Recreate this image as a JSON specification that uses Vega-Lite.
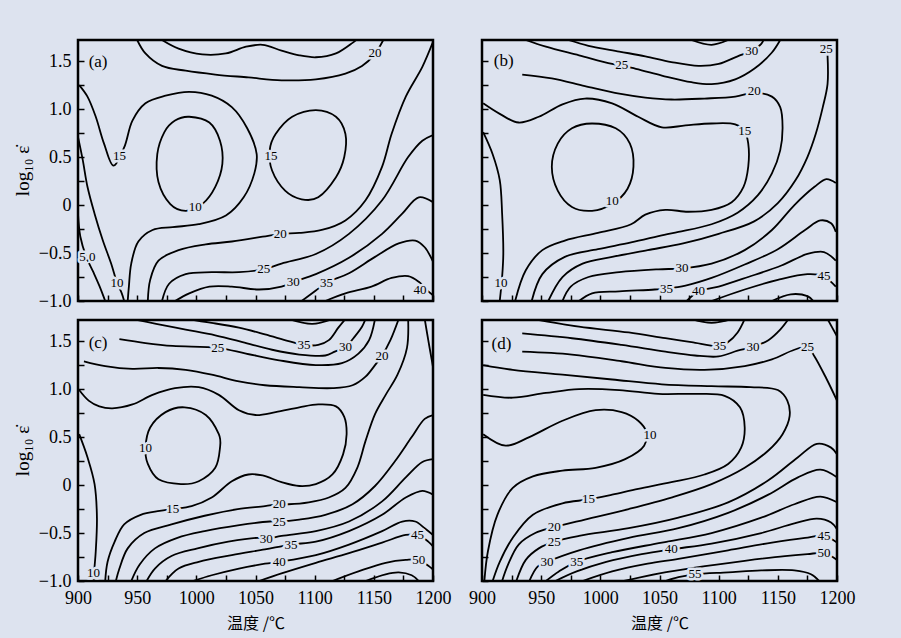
{
  "$schema": "https://vega.github.io/schema/vega-lite/v6.json",
  "background": "#dde3ef",
  "padding": {"left": 12, "top": 38, "right": 50, "bottom": 10},
  "config": {
    "view": {"stroke": "black", "strokeWidth": 2.5},
    "font": "Liberation Serif"
  },
  "datasets": {
    "ln": [
      {"p":"a","k":1,"t":950,"l":1.72},{"p":"a","k":1,"t":957,"l":1.58},{"p":"a","k":1,"t":971,"l":1.45},{"p":"a","k":1,"t":991,"l":1.40},{"p":"a","k":1,"t":1016,"l":1.36},{"p":"a","k":1,"t":1044,"l":1.33},{"p":"a","k":1,"t":1072,"l":1.30},{"p":"a","k":1,"t":1101,"l":1.31},{"p":"a","k":1,"t":1126,"l":1.37},{"p":"a","k":1,"t":1140,"l":1.45},{"p":"a","k":1,"t":1150,"l":1.56},{"p":"a","k":1,"t":1158,"l":1.72},
      {"p":"a","k":2,"t":971,"l":1.72},{"p":"a","k":2,"t":985,"l":1.63},{"p":"a","k":2,"t":1005,"l":1.57},{"p":"a","k":2,"t":1025,"l":1.58},{"p":"a","k":2,"t":1042,"l":1.65},{"p":"a","k":2,"t":1056,"l":1.67},{"p":"a","k":2,"t":1072,"l":1.61},{"p":"a","k":2,"t":1087,"l":1.56},{"p":"a","k":2,"t":1101,"l":1.54},{"p":"a","k":2,"t":1118,"l":1.58},{"p":"a","k":2,"t":1132,"l":1.69},{"p":"a","k":2,"t":1135,"l":1.72},
      {"p":"a","k":3,"t":901,"l":1.25},{"p":"a","k":3,"t":908,"l":1.13},{"p":"a","k":3,"t":915,"l":0.92},{"p":"a","k":3,"t":922,"l":0.64},{"p":"a","k":3,"t":930,"l":0.41},{"p":"a","k":3,"t":939,"l":0.60},{"p":"a","k":3,"t":946,"l":0.88},{"p":"a","k":3,"t":957,"l":1.06},{"p":"a","k":3,"t":974,"l":1.14},{"p":"a","k":3,"t":994,"l":1.18},{"p":"a","k":3,"t":1013,"l":1.14},{"p":"a","k":3,"t":1030,"l":1.02},{"p":"a","k":3,"t":1043,"l":0.80},{"p":"a","k":3,"t":1051,"l":0.53},{"p":"a","k":3,"t":1049,"l":0.33},{"p":"a","k":3,"t":1040,"l":0.08},{"p":"a","k":3,"t":1025,"l":-0.11},{"p":"a","k":3,"t":1002,"l":-0.20},{"p":"a","k":3,"t":980,"l":-0.23},{"p":"a","k":3,"t":963,"l":-0.26},{"p":"a","k":3,"t":951,"l":-0.38},{"p":"a","k":3,"t":945,"l":-0.61},{"p":"a","k":3,"t":943,"l":-0.85},{"p":"a","k":3,"t":942,"l":-1.0},
      {"p":"a","k":4,"t":900,"l":0.71},{"p":"a","k":4,"t":904,"l":0.47},{"p":"a","k":4,"t":908,"l":0.19},{"p":"a","k":4,"t":914,"l":-0.09},{"p":"a","k":4,"t":921,"l":-0.37},{"p":"a","k":4,"t":928,"l":-0.61},{"p":"a","k":4,"t":933,"l":-0.81},{"p":"a","k":4,"t":937,"l":-0.92},{"p":"a","k":4,"t":939,"l":-1.0},
      {"p":"a","k":5,"t":900,"l":-0.09},{"p":"a","k":5,"t":902,"l":-0.33},{"p":"a","k":5,"t":907,"l":-0.54},{"p":"a","k":5,"t":913,"l":-0.70},{"p":"a","k":5,"t":918,"l":-0.84},{"p":"a","k":5,"t":923,"l":-1.0},
      {"p":"a","k":6,"t":959,"l":-1.0},{"p":"a","k":6,"t":961,"l":-0.78},{"p":"a","k":6,"t":968,"l":-0.58},{"p":"a","k":6,"t":985,"l":-0.47},{"p":"a","k":6,"t":1008,"l":-0.41},{"p":"a","k":6,"t":1030,"l":-0.38},{"p":"a","k":6,"t":1056,"l":-0.33},{"p":"a","k":6,"t":1071,"l":-0.30},{"p":"a","k":6,"t":1087,"l":-0.29},{"p":"a","k":6,"t":1106,"l":-0.26},{"p":"a","k":6,"t":1126,"l":-0.16},{"p":"a","k":6,"t":1143,"l":0.05},{"p":"a","k":6,"t":1157,"l":0.40},{"p":"a","k":6,"t":1165,"l":0.74},{"p":"a","k":6,"t":1177,"l":1.13},{"p":"a","k":6,"t":1191,"l":1.44},{"p":"a","k":6,"t":1200,"l":1.70},
      {"p":"a","k":7,"t":971,"l":-1.0},{"p":"a","k":7,"t":977,"l":-0.82},{"p":"a","k":7,"t":991,"l":-0.72},{"p":"a","k":7,"t":1013,"l":-0.70},{"p":"a","k":7,"t":1036,"l":-0.70},{"p":"a","k":7,"t":1057,"l":-0.67},{"p":"a","k":7,"t":1072,"l":-0.61},{"p":"a","k":7,"t":1101,"l":-0.51},{"p":"a","k":7,"t":1129,"l":-0.30},{"p":"a","k":7,"t":1157,"l":0.05},{"p":"a","k":7,"t":1179,"l":0.50},{"p":"a","k":7,"t":1191,"l":0.67},{"p":"a","k":7,"t":1200,"l":0.73},
      {"p":"a","k":8,"t":982,"l":-1.0},{"p":"a","k":8,"t":994,"l":-0.92},{"p":"a","k":8,"t":1011,"l":-0.85},{"p":"a","k":8,"t":1030,"l":-0.85},{"p":"a","k":8,"t":1053,"l":-0.88},{"p":"a","k":8,"t":1072,"l":-0.85},{"p":"a","k":8,"t":1082,"l":-0.80},{"p":"a","k":8,"t":1101,"l":-0.72},{"p":"a","k":8,"t":1129,"l":-0.55},{"p":"a","k":8,"t":1157,"l":-0.30},{"p":"a","k":8,"t":1174,"l":-0.09},{"p":"a","k":8,"t":1188,"l":0.08},{"p":"a","k":8,"t":1200,"l":0.03},
      {"p":"a","k":9,"t":1089,"l":-1.0},{"p":"a","k":9,"t":1101,"l":-0.89},{"p":"a","k":9,"t":1110,"l":-0.81},{"p":"a","k":9,"t":1129,"l":-0.71},{"p":"a","k":9,"t":1151,"l":-0.54},{"p":"a","k":9,"t":1171,"l":-0.40},{"p":"a","k":9,"t":1185,"l":-0.37},{"p":"a","k":9,"t":1193,"l":-0.44},{"p":"a","k":9,"t":1200,"l":-0.59},
      {"p":"a","k":10,"t":1109,"l":-1.0},{"p":"a","k":10,"t":1126,"l":-0.92},{"p":"a","k":10,"t":1148,"l":-0.85},{"p":"a","k":10,"t":1165,"l":-0.76},{"p":"a","k":10,"t":1179,"l":-0.74},{"p":"a","k":10,"t":1188,"l":-0.80},{"p":"a","k":10,"t":1196,"l":-0.90},{"p":"a","k":10,"t":1200,"l":-0.94},

      {"p":"b","k":1,"t":1077,"l":1.72},{"p":"b","k":1,"t":1094,"l":1.67},{"p":"b","k":1,"t":1108,"l":1.72},
      {"p":"b","k":2,"t":973,"l":1.72},{"p":"b","k":2,"t":990,"l":1.66},{"p":"b","k":2,"t":1016,"l":1.60},{"p":"b","k":2,"t":1038,"l":1.55},{"p":"b","k":2,"t":1060,"l":1.49},{"p":"b","k":2,"t":1083,"l":1.45},{"p":"b","k":2,"t":1100,"l":1.47},{"p":"b","k":2,"t":1116,"l":1.55},{"p":"b","k":2,"t":1128,"l":1.61},{"p":"b","k":2,"t":1136,"l":1.68},{"p":"b","k":2,"t":1138,"l":1.72},
      {"p":"b","k":3,"t":937,"l":1.72},{"p":"b","k":3,"t":954,"l":1.65},{"p":"b","k":3,"t":982,"l":1.56},{"p":"b","k":3,"t":1010,"l":1.47},{"p":"b","k":3,"t":1030,"l":1.42},{"p":"b","k":3,"t":1052,"l":1.35},{"p":"b","k":3,"t":1077,"l":1.28},{"p":"b","k":3,"t":1094,"l":1.26},{"p":"b","k":3,"t":1114,"l":1.31},{"p":"b","k":3,"t":1130,"l":1.42},{"p":"b","k":3,"t":1145,"l":1.59},{"p":"b","k":3,"t":1152,"l":1.72},
      {"p":"b","k":4,"t":934,"l":1.36},{"p":"b","k":4,"t":959,"l":1.32},{"p":"b","k":4,"t":987,"l":1.24},{"p":"b","k":4,"t":1016,"l":1.16},{"p":"b","k":4,"t":1038,"l":1.12},{"p":"b","k":4,"t":1060,"l":1.10},{"p":"b","k":4,"t":1088,"l":1.11},{"p":"b","k":4,"t":1114,"l":1.13},{"p":"b","k":4,"t":1130,"l":1.17},{"p":"b","k":4,"t":1145,"l":1.13},{"p":"b","k":4,"t":1152,"l":1.02},{"p":"b","k":4,"t":1154,"l":0.81},{"p":"b","k":4,"t":1152,"l":0.57},{"p":"b","k":4,"t":1145,"l":0.33},{"p":"b","k":4,"t":1133,"l":0.10},{"p":"b","k":4,"t":1116,"l":-0.08},{"p":"b","k":4,"t":1094,"l":-0.20},{"p":"b","k":4,"t":1066,"l":-0.28},{"p":"b","k":4,"t":1054,"l":-0.31},{"p":"b","k":4,"t":1026,"l":-0.39},{"p":"b","k":4,"t":998,"l":-0.46},{"p":"b","k":4,"t":970,"l":-0.54},{"p":"b","k":4,"t":951,"l":-0.72},{"p":"b","k":4,"t":942,"l":-1.0},
      {"p":"b","k":5,"t":901,"l":1.06},{"p":"b","k":5,"t":915,"l":0.95},{"p":"b","k":5,"t":931,"l":0.86},{"p":"b","k":5,"t":948,"l":0.92},{"p":"b","k":5,"t":968,"l":1.05},{"p":"b","k":5,"t":987,"l":1.11},{"p":"b","k":5,"t":1010,"l":1.06},{"p":"b","k":5,"t":1032,"l":0.92},{"p":"b","k":5,"t":1052,"l":0.81},{"p":"b","k":5,"t":1072,"l":0.83},{"p":"b","k":5,"t":1094,"l":0.85},{"p":"b","k":5,"t":1114,"l":0.84},{"p":"b","k":5,"t":1122,"l":0.77},{"p":"b","k":5,"t":1125,"l":0.64},{"p":"b","k":5,"t":1125,"l":0.40},{"p":"b","k":5,"t":1121,"l":0.19},{"p":"b","k":5,"t":1111,"l":0.03},{"p":"b","k":5,"t":1094,"l":-0.05},{"p":"b","k":5,"t":1074,"l":-0.07},{"p":"b","k":5,"t":1055,"l":-0.05},{"p":"b","k":5,"t":1038,"l":-0.10},{"p":"b","k":5,"t":1026,"l":-0.20},{"p":"b","k":5,"t":998,"l":-0.29},{"p":"b","k":5,"t":970,"l":-0.37},{"p":"b","k":5,"t":951,"l":-0.47},{"p":"b","k":5,"t":937,"l":-0.68},{"p":"b","k":5,"t":928,"l":-1.0},
      {"p":"b","k":6,"t":901,"l":0.76},{"p":"b","k":6,"t":909,"l":0.53},{"p":"b","k":6,"t":915,"l":0.26},{"p":"b","k":6,"t":917,"l":-0.09},{"p":"b","k":6,"t":918,"l":-0.51},{"p":"b","k":6,"t":917,"l":-0.75},{"p":"b","k":6,"t":915,"l":-1.0},
      {"p":"b","k":7,"t":1192,"l":1.56},{"p":"b","k":7,"t":1192,"l":1.26},{"p":"b","k":7,"t":1188,"l":1.02},{"p":"b","k":7,"t":1182,"l":0.74},{"p":"b","k":7,"t":1175,"l":0.50},{"p":"b","k":7,"t":1165,"l":0.26},{"p":"b","k":7,"t":1150,"l":0.02},{"p":"b","k":7,"t":1130,"l":-0.17},{"p":"b","k":7,"t":1100,"l":-0.30},{"p":"b","k":7,"t":1070,"l":-0.40},{"p":"b","k":7,"t":1040,"l":-0.47},{"p":"b","k":7,"t":1010,"l":-0.54},{"p":"b","k":7,"t":985,"l":-0.61},{"p":"b","k":7,"t":968,"l":-0.75},{"p":"b","k":7,"t":956,"l":-1.0},
      {"p":"b","k":8,"t":968,"l":-1.0},{"p":"b","k":8,"t":975,"l":-0.85},{"p":"b","k":8,"t":990,"l":-0.75},{"p":"b","k":8,"t":1016,"l":-0.70},{"p":"b","k":8,"t":1049,"l":-0.67},{"p":"b","k":8,"t":1069,"l":-0.66},{"p":"b","k":8,"t":1094,"l":-0.61},{"p":"b","k":8,"t":1122,"l":-0.47},{"p":"b","k":8,"t":1145,"l":-0.26},{"p":"b","k":8,"t":1164,"l":0.00},{"p":"b","k":8,"t":1181,"l":0.19},{"p":"b","k":8,"t":1191,"l":0.27},{"p":"b","k":8,"t":1199,"l":0.23},
      {"p":"b","k":9,"t":982,"l":-1.0},{"p":"b","k":9,"t":993,"l":-0.92},{"p":"b","k":9,"t":1016,"l":-0.90},{"p":"b","k":9,"t":1046,"l":-0.88},{"p":"b","k":9,"t":1056,"l":-0.87},{"p":"b","k":9,"t":1072,"l":-0.84},{"p":"b","k":9,"t":1094,"l":-0.76},{"p":"b","k":9,"t":1122,"l":-0.62},{"p":"b","k":9,"t":1150,"l":-0.46},{"p":"b","k":9,"t":1173,"l":-0.26},{"p":"b","k":9,"t":1186,"l":-0.16},{"p":"b","k":9,"t":1195,"l":-0.19},{"p":"b","k":9,"t":1199,"l":-0.28},
      {"p":"b","k":10,"t":1073,"l":-1.0},{"p":"b","k":10,"t":1083,"l":-0.90},{"p":"b","k":10,"t":1100,"l":-0.85},{"p":"b","k":10,"t":1125,"l":-0.75},{"p":"b","k":10,"t":1153,"l":-0.63},{"p":"b","k":10,"t":1175,"l":-0.51},{"p":"b","k":10,"t":1189,"l":-0.49},{"p":"b","k":10,"t":1199,"l":-0.58},
      {"p":"b","k":11,"t":1094,"l":-1.0},{"p":"b","k":11,"t":1122,"l":-0.88},{"p":"b","k":11,"t":1150,"l":-0.78},{"p":"b","k":11,"t":1175,"l":-0.72},{"p":"b","k":11,"t":1189,"l":-0.74},{"p":"b","k":11,"t":1195,"l":-0.80},{"p":"b","k":11,"t":1199,"l":-0.85},
      {"p":"b","k":12,"t":1145,"l":-1.0},{"p":"b","k":12,"t":1161,"l":-0.93},{"p":"b","k":12,"t":1175,"l":-0.95},{"p":"b","k":12,"t":1180,"l":-1.0},

      {"p":"c","k":1,"t":901,"l":0.99},{"p":"c","k":1,"t":909,"l":0.88},{"p":"c","k":1,"t":918,"l":0.82},{"p":"c","k":1,"t":929,"l":0.80},{"p":"c","k":1,"t":946,"l":0.84},{"p":"c","k":1,"t":963,"l":0.94},{"p":"c","k":1,"t":982,"l":1.01},{"p":"c","k":1,"t":1002,"l":1.02},{"p":"c","k":1,"t":1019,"l":0.94},{"p":"c","k":1,"t":1036,"l":0.78},{"p":"c","k":1,"t":1050,"l":0.73},{"p":"c","k":1,"t":1067,"l":0.76},{"p":"c","k":1,"t":1087,"l":0.81},{"p":"c","k":1,"t":1103,"l":0.84},{"p":"c","k":1,"t":1118,"l":0.82},{"p":"c","k":1,"t":1125,"l":0.71},{"p":"c","k":1,"t":1127,"l":0.53},{"p":"c","k":1,"t":1124,"l":0.32},{"p":"c","k":1,"t":1115,"l":0.11},{"p":"c","k":1,"t":1101,"l":0.01},{"p":"c","k":1,"t":1087,"l":-0.01},{"p":"c","k":1,"t":1072,"l":0.03},{"p":"c","k":1,"t":1056,"l":0.10},{"p":"c","k":1,"t":1044,"l":0.11},{"p":"c","k":1,"t":1030,"l":0.04},{"p":"c","k":1,"t":1013,"l":-0.13},{"p":"c","k":1,"t":996,"l":-0.22},{"p":"c","k":1,"t":980,"l":-0.25},{"p":"c","k":1,"t":969,"l":-0.27},{"p":"c","k":1,"t":953,"l":-0.31},{"p":"c","k":1,"t":939,"l":-0.41},{"p":"c","k":1,"t":931,"l":-0.59},{"p":"c","k":1,"t":925,"l":-0.80},{"p":"c","k":1,"t":923,"l":-1.0},
      {"p":"c","k":2,"t":901,"l":0.53},{"p":"c","k":2,"t":908,"l":0.29},{"p":"c","k":2,"t":914,"l":0.01},{"p":"c","k":2,"t":916,"l":-0.34},{"p":"c","k":2,"t":915,"l":-0.69},{"p":"c","k":2,"t":914,"l":-0.85},{"p":"c","k":2,"t":913,"l":-1.0},
      {"p":"c","k":3,"t":905,"l":1.29},{"p":"c","k":3,"t":923,"l":1.24},{"p":"c","k":3,"t":946,"l":1.21},{"p":"c","k":3,"t":968,"l":1.22},{"p":"c","k":3,"t":991,"l":1.20},{"p":"c","k":3,"t":1013,"l":1.15},{"p":"c","k":3,"t":1036,"l":1.08},{"p":"c","k":3,"t":1058,"l":1.04},{"p":"c","k":3,"t":1087,"l":1.02},{"p":"c","k":3,"t":1115,"l":1.01},{"p":"c","k":3,"t":1132,"l":1.04},{"p":"c","k":3,"t":1143,"l":1.13},{"p":"c","k":3,"t":1151,"l":1.25},{"p":"c","k":3,"t":1157,"l":1.35},{"p":"c","k":3,"t":1164,"l":1.51},{"p":"c","k":3,"t":1171,"l":1.73},
      {"p":"c","k":4,"t":1179,"l":1.73},{"p":"c","k":4,"t":1178,"l":1.43},{"p":"c","k":4,"t":1170,"l":1.15},{"p":"c","k":4,"t":1160,"l":0.94},{"p":"c","k":4,"t":1151,"l":0.74},{"p":"c","k":4,"t":1143,"l":0.46},{"p":"c","k":4,"t":1136,"l":0.18},{"p":"c","k":4,"t":1126,"l":-0.03},{"p":"c","k":4,"t":1112,"l":-0.13},{"p":"c","k":4,"t":1095,"l":-0.18},{"p":"c","k":4,"t":1078,"l":-0.20},{"p":"c","k":4,"t":1070,"l":-0.20},{"p":"c","k":4,"t":1058,"l":-0.22},{"p":"c","k":4,"t":1035,"l":-0.25},{"p":"c","k":4,"t":1007,"l":-0.32},{"p":"c","k":4,"t":979,"l":-0.41},{"p":"c","k":4,"t":956,"l":-0.50},{"p":"c","k":4,"t":942,"l":-0.66},{"p":"c","k":4,"t":935,"l":-0.87},{"p":"c","k":4,"t":932,"l":-1.0},
      {"p":"c","k":5,"t":945,"l":-1.0},{"p":"c","k":5,"t":952,"l":-0.83},{"p":"c","k":5,"t":965,"l":-0.66},{"p":"c","k":5,"t":984,"l":-0.55},{"p":"c","k":5,"t":1007,"l":-0.48},{"p":"c","k":5,"t":1035,"l":-0.42},{"p":"c","k":5,"t":1062,"l":-0.38},{"p":"c","k":5,"t":1070,"l":-0.38},{"p":"c","k":5,"t":1087,"l":-0.36},{"p":"c","k":5,"t":1109,"l":-0.31},{"p":"c","k":5,"t":1132,"l":-0.20},{"p":"c","k":5,"t":1151,"l":-0.01},{"p":"c","k":5,"t":1168,"l":0.25},{"p":"c","k":5,"t":1182,"l":0.50},{"p":"c","k":5,"t":1193,"l":0.69},{"p":"c","k":5,"t":1200,"l":0.73},
      {"p":"c","k":6,"t":958,"l":-1.0},{"p":"c","k":6,"t":965,"l":-0.87},{"p":"c","k":6,"t":979,"l":-0.74},{"p":"c","k":6,"t":1001,"l":-0.66},{"p":"c","k":6,"t":1027,"l":-0.59},{"p":"c","k":6,"t":1052,"l":-0.55},{"p":"c","k":6,"t":1059,"l":-0.56},{"p":"c","k":6,"t":1072,"l":-0.53},{"p":"c","k":6,"t":1101,"l":-0.48},{"p":"c","k":6,"t":1129,"l":-0.38},{"p":"c","k":6,"t":1157,"l":-0.17},{"p":"c","k":6,"t":1177,"l":0.08},{"p":"c","k":6,"t":1191,"l":0.24},{"p":"c","k":6,"t":1200,"l":0.27},
      {"p":"c","k":7,"t":974,"l":-1.0},{"p":"c","k":7,"t":985,"l":-0.87},{"p":"c","k":7,"t":1002,"l":-0.80},{"p":"c","k":7,"t":1030,"l":-0.73},{"p":"c","k":7,"t":1058,"l":-0.67},{"p":"c","k":7,"t":1080,"l":-0.62},{"p":"c","k":7,"t":1101,"l":-0.59},{"p":"c","k":7,"t":1129,"l":-0.48},{"p":"c","k":7,"t":1157,"l":-0.31},{"p":"c","k":7,"t":1177,"l":-0.13},{"p":"c","k":7,"t":1191,"l":-0.06},{"p":"c","k":7,"t":1200,"l":-0.10},
      {"p":"c","k":8,"t":997,"l":-1.0},{"p":"c","k":8,"t":1013,"l":-0.94},{"p":"c","k":8,"t":1036,"l":-0.87},{"p":"c","k":8,"t":1058,"l":-0.82},{"p":"c","k":8,"t":1070,"l":-0.80},{"p":"c","k":8,"t":1101,"l":-0.73},{"p":"c","k":8,"t":1129,"l":-0.62},{"p":"c","k":8,"t":1157,"l":-0.48},{"p":"c","k":8,"t":1174,"l":-0.38},{"p":"c","k":8,"t":1185,"l":-0.38},{"p":"c","k":8,"t":1193,"l":-0.45},{"p":"c","k":8,"t":1200,"l":-0.52},
      {"p":"c","k":9,"t":1053,"l":-1.0},{"p":"c","k":9,"t":1072,"l":-0.92},{"p":"c","k":9,"t":1101,"l":-0.81},{"p":"c","k":9,"t":1129,"l":-0.71},{"p":"c","k":9,"t":1157,"l":-0.60},{"p":"c","k":9,"t":1177,"l":-0.52},{"p":"c","k":9,"t":1187,"l":-0.52},{"p":"c","k":9,"t":1196,"l":-0.59},{"p":"c","k":9,"t":1200,"l":-0.64},
      {"p":"c","k":10,"t":1115,"l":-1.0},{"p":"c","k":10,"t":1137,"l":-0.90},{"p":"c","k":10,"t":1160,"l":-0.81},{"p":"c","k":10,"t":1177,"l":-0.78},{"p":"c","k":10,"t":1188,"l":-0.78},{"p":"c","k":10,"t":1197,"l":-0.85},{"p":"c","k":10,"t":1200,"l":-0.88},
      {"p":"c","k":11,"t":1143,"l":-1.0},{"p":"c","k":11,"t":1160,"l":-0.93},{"p":"c","k":11,"t":1171,"l":-0.91},{"p":"c","k":11,"t":1182,"l":-0.94},{"p":"c","k":11,"t":1188,"l":-1.0},
      {"p":"c","k":12,"t":935,"l":1.52},{"p":"c","k":12,"t":957,"l":1.48},{"p":"c","k":12,"t":980,"l":1.45},{"p":"c","k":12,"t":1018,"l":1.43},{"p":"c","k":12,"t":1042,"l":1.37},{"p":"c","k":12,"t":1070,"l":1.30},{"p":"c","k":12,"t":1101,"l":1.25},{"p":"c","k":12,"t":1123,"l":1.27},{"p":"c","k":12,"t":1137,"l":1.37},{"p":"c","k":12,"t":1146,"l":1.51},{"p":"c","k":12,"t":1151,"l":1.73},
      {"p":"c","k":13,"t":946,"l":1.73},{"p":"c","k":13,"t":966,"l":1.68},{"p":"c","k":13,"t":991,"l":1.62},{"p":"c","k":13,"t":1016,"l":1.56},{"p":"c","k":13,"t":1039,"l":1.49},{"p":"c","k":13,"t":1064,"l":1.41},{"p":"c","k":13,"t":1087,"l":1.36},{"p":"c","k":13,"t":1109,"l":1.35},{"p":"c","k":13,"t":1117,"l":1.39},{"p":"c","k":13,"t":1126,"l":1.44},{"p":"c","k":13,"t":1134,"l":1.55},{"p":"c","k":13,"t":1140,"l":1.65},{"p":"c","k":13,"t":1143,"l":1.73},
      {"p":"c","k":14,"t":991,"l":1.73},{"p":"c","k":14,"t":1013,"l":1.69},{"p":"c","k":14,"t":1036,"l":1.64},{"p":"c","k":14,"t":1058,"l":1.57},{"p":"c","k":14,"t":1078,"l":1.50},{"p":"c","k":14,"t":1091,"l":1.46},{"p":"c","k":14,"t":1103,"l":1.46},{"p":"c","k":14,"t":1112,"l":1.51},{"p":"c","k":14,"t":1120,"l":1.64},{"p":"c","k":14,"t":1126,"l":1.73},
      {"p":"c","k":15,"t":1078,"l":1.73},{"p":"c","k":15,"t":1098,"l":1.68},{"p":"c","k":15,"t":1115,"l":1.73},
      {"p":"c","k":16,"t":1193,"l":1.73},{"p":"c","k":16,"t":1196,"l":1.51},{"p":"c","k":16,"t":1199,"l":1.30},{"p":"c","k":16,"t":1200,"l":1.23},

      {"p":"d","k":1,"t":1077,"l":1.73},{"p":"d","k":1,"t":1094,"l":1.69},{"p":"d","k":1,"t":1111,"l":1.73},
      {"p":"d","k":2,"t":943,"l":1.73},{"p":"d","k":2,"t":982,"l":1.65},{"p":"d","k":2,"t":1024,"l":1.59},{"p":"d","k":2,"t":1055,"l":1.53},{"p":"d","k":2,"t":1077,"l":1.49},{"p":"d","k":2,"t":1101,"l":1.45},{"p":"d","k":2,"t":1108,"l":1.49},{"p":"d","k":2,"t":1116,"l":1.59},{"p":"d","k":2,"t":1122,"l":1.73},
      {"p":"d","k":3,"t":934,"l":1.58},{"p":"d","k":3,"t":976,"l":1.53},{"p":"d","k":3,"t":1018,"l":1.46},{"p":"d","k":3,"t":1055,"l":1.39},{"p":"d","k":3,"t":1080,"l":1.35},{"p":"d","k":3,"t":1100,"l":1.34},{"p":"d","k":3,"t":1116,"l":1.40},{"p":"d","k":3,"t":1129,"l":1.44},{"p":"d","k":3,"t":1142,"l":1.51},{"p":"d","k":3,"t":1152,"l":1.62},{"p":"d","k":3,"t":1159,"l":1.73},
      {"p":"d","k":4,"t":934,"l":1.39},{"p":"d","k":4,"t":976,"l":1.36},{"p":"d","k":4,"t":1018,"l":1.29},{"p":"d","k":4,"t":1055,"l":1.22},{"p":"d","k":4,"t":1088,"l":1.20},{"p":"d","k":4,"t":1122,"l":1.24},{"p":"d","k":4,"t":1145,"l":1.31},{"p":"d","k":4,"t":1164,"l":1.41},{"p":"d","k":4,"t":1175,"l":1.44},{"p":"d","k":4,"t":1181,"l":1.34},{"p":"d","k":4,"t":1191,"l":1.11},{"p":"d","k":4,"t":1200,"l":0.88},
      {"p":"d","k":5,"t":901,"l":1.25},{"p":"d","k":5,"t":926,"l":1.20},{"p":"d","k":5,"t":968,"l":1.15},{"p":"d","k":5,"t":1010,"l":1.10},{"p":"d","k":5,"t":1052,"l":1.05},{"p":"d","k":5,"t":1094,"l":1.03},{"p":"d","k":5,"t":1127,"l":1.02},{"p":"d","k":5,"t":1150,"l":0.99},{"p":"d","k":5,"t":1158,"l":0.88},{"p":"d","k":5,"t":1160,"l":0.72},{"p":"d","k":5,"t":1154,"l":0.53},{"p":"d","k":5,"t":1142,"l":0.36},{"p":"d","k":5,"t":1122,"l":0.18},{"p":"d","k":5,"t":1094,"l":0.01},{"p":"d","k":5,"t":1060,"l":-0.13},{"p":"d","k":5,"t":1024,"l":-0.25},{"p":"d","k":5,"t":987,"l":-0.36},{"p":"d","k":5,"t":961,"l":-0.44},{"p":"d","k":5,"t":945,"l":-0.50},{"p":"d","k":5,"t":931,"l":-0.62},{"p":"d","k":5,"t":922,"l":-0.83},{"p":"d","k":5,"t":917,"l":-1.0},
      {"p":"d","k":6,"t":901,"l":0.94},{"p":"d","k":6,"t":926,"l":0.91},{"p":"d","k":6,"t":954,"l":0.96},{"p":"d","k":6,"t":982,"l":1.00},{"p":"d","k":6,"t":1016,"l":0.99},{"p":"d","k":6,"t":1049,"l":0.95},{"p":"d","k":6,"t":1080,"l":0.95},{"p":"d","k":6,"t":1105,"l":0.93},{"p":"d","k":6,"t":1118,"l":0.81},{"p":"d","k":6,"t":1122,"l":0.60},{"p":"d","k":6,"t":1119,"l":0.39},{"p":"d","k":6,"t":1108,"l":0.22},{"p":"d","k":6,"t":1088,"l":0.11},{"p":"d","k":6,"t":1060,"l":0.03},{"p":"d","k":6,"t":1032,"l":-0.04},{"p":"d","k":6,"t":1010,"l":-0.10},{"p":"d","k":6,"t":990,"l":-0.15},{"p":"d","k":6,"t":968,"l":-0.19},{"p":"d","k":6,"t":943,"l":-0.31},{"p":"d","k":6,"t":926,"l":-0.55},{"p":"d","k":6,"t":915,"l":-0.80},{"p":"d","k":6,"t":909,"l":-1.0},
      {"p":"d","k":7,"t":901,"l":0.53},{"p":"d","k":7,"t":920,"l":0.41},{"p":"d","k":7,"t":940,"l":0.50},{"p":"d","k":7,"t":968,"l":0.67},{"p":"d","k":7,"t":996,"l":0.78},{"p":"d","k":7,"t":1018,"l":0.76},{"p":"d","k":7,"t":1032,"l":0.67},{"p":"d","k":7,"t":1039,"l":0.55},{"p":"d","k":7,"t":1037,"l":0.41},{"p":"d","k":7,"t":1021,"l":0.27},{"p":"d","k":7,"t":996,"l":0.18},{"p":"d","k":7,"t":968,"l":0.15},{"p":"d","k":7,"t":943,"l":0.09},{"p":"d","k":7,"t":926,"l":-0.03},{"p":"d","k":7,"t":913,"l":-0.31},{"p":"d","k":7,"t":905,"l":-0.69},{"p":"d","k":7,"t":902,"l":-1.0},
      {"p":"d","k":8,"t":929,"l":-1.0},{"p":"d","k":8,"t":937,"l":-0.78},{"p":"d","k":8,"t":948,"l":-0.66},{"p":"d","k":8,"t":961,"l":-0.59},{"p":"d","k":8,"t":982,"l":-0.53},{"p":"d","k":8,"t":1024,"l":-0.45},{"p":"d","k":8,"t":1066,"l":-0.34},{"p":"d","k":8,"t":1108,"l":-0.18},{"p":"d","k":8,"t":1142,"l":0.05},{"p":"d","k":8,"t":1167,"l":0.29},{"p":"d","k":8,"t":1183,"l":0.43},{"p":"d","k":8,"t":1195,"l":0.39},{"p":"d","k":8,"t":1200,"l":0.32},
      {"p":"d","k":9,"t":940,"l":-1.0},{"p":"d","k":9,"t":947,"l":-0.85},{"p":"d","k":9,"t":955,"l":-0.80},{"p":"d","k":9,"t":982,"l":-0.68},{"p":"d","k":9,"t":1024,"l":-0.55},{"p":"d","k":9,"t":1066,"l":-0.45},{"p":"d","k":9,"t":1108,"l":-0.29},{"p":"d","k":9,"t":1142,"l":-0.10},{"p":"d","k":9,"t":1167,"l":0.08},{"p":"d","k":9,"t":1186,"l":0.16},{"p":"d","k":9,"t":1200,"l":0.08},
      {"p":"d","k":10,"t":954,"l":-1.0},{"p":"d","k":10,"t":965,"l":-0.90},{"p":"d","k":10,"t":980,"l":-0.80},{"p":"d","k":10,"t":1010,"l":-0.70},{"p":"d","k":10,"t":1052,"l":-0.60},{"p":"d","k":10,"t":1094,"l":-0.50},{"p":"d","k":10,"t":1136,"l":-0.34},{"p":"d","k":10,"t":1164,"l":-0.20},{"p":"d","k":10,"t":1186,"l":-0.12},{"p":"d","k":10,"t":1200,"l":-0.18},
      {"p":"d","k":11,"t":962,"l":-1.0},{"p":"d","k":11,"t":980,"l":-0.90},{"p":"d","k":11,"t":1005,"l":-0.80},{"p":"d","k":11,"t":1035,"l":-0.72},{"p":"d","k":11,"t":1060,"l":-0.67},{"p":"d","k":11,"t":1094,"l":-0.61},{"p":"d","k":11,"t":1136,"l":-0.50},{"p":"d","k":11,"t":1164,"l":-0.40},{"p":"d","k":11,"t":1183,"l":-0.35},{"p":"d","k":11,"t":1195,"l":-0.39},{"p":"d","k":11,"t":1200,"l":-0.46},
      {"p":"d","k":12,"t":985,"l":-1.0},{"p":"d","k":12,"t":1010,"l":-0.90},{"p":"d","k":12,"t":1040,"l":-0.82},{"p":"d","k":12,"t":1066,"l":-0.77},{"p":"d","k":12,"t":1108,"l":-0.68},{"p":"d","k":12,"t":1145,"l":-0.60},{"p":"d","k":12,"t":1173,"l":-0.55},{"p":"d","k":12,"t":1189,"l":-0.53},{"p":"d","k":12,"t":1200,"l":-0.60},
      {"p":"d","k":13,"t":1020,"l":-1.0},{"p":"d","k":13,"t":1050,"l":-0.92},{"p":"d","k":13,"t":1080,"l":-0.86},{"p":"d","k":13,"t":1122,"l":-0.79},{"p":"d","k":13,"t":1156,"l":-0.74},{"p":"d","k":13,"t":1175,"l":-0.72},{"p":"d","k":13,"t":1189,"l":-0.71},{"p":"d","k":13,"t":1200,"l":-0.78},
      {"p":"d","k":14,"t":1055,"l":-1.0},{"p":"d","k":14,"t":1066,"l":-0.96},{"p":"d","k":14,"t":1080,"l":-0.93},{"p":"d","k":14,"t":1108,"l":-0.91},{"p":"d","k":14,"t":1136,"l":-0.89},{"p":"d","k":14,"t":1164,"l":-0.89},{"p":"d","k":14,"t":1178,"l":-0.93},{"p":"d","k":14,"t":1185,"l":-1.0},
      {"p":"d","k":15,"t":1192,"l":1.73},{"p":"d","k":15,"t":1200,"l":1.55}
    ],
    "lp": [
      {"p":"a","k":1,"t":994,"l":0.92},{"p":"a","k":1,"t":1011,"l":0.86},{"p":"a","k":1,"t":1020,"l":0.67},{"p":"a","k":1,"t":1022,"l":0.43},{"p":"a","k":1,"t":1016,"l":0.19},{"p":"a","k":1,"t":1005,"l":0.01},{"p":"a","k":1,"t":991,"l":-0.06},{"p":"a","k":1,"t":978,"l":0.01},{"p":"a","k":1,"t":968,"l":0.24},{"p":"a","k":1,"t":967,"l":0.53},{"p":"a","k":1,"t":973,"l":0.76},{"p":"a","k":1,"t":982,"l":0.88},
      {"p":"a","k":2,"t":1101,"l":0.99},{"p":"a","k":2,"t":1118,"l":0.92},{"p":"a","k":2,"t":1126,"l":0.74},{"p":"a","k":2,"t":1125,"l":0.50},{"p":"a","k":2,"t":1118,"l":0.29},{"p":"a","k":2,"t":1103,"l":0.08},{"p":"a","k":2,"t":1089,"l":0.06},{"p":"a","k":2,"t":1075,"l":0.15},{"p":"a","k":2,"t":1064,"l":0.36},{"p":"a","k":2,"t":1062,"l":0.57},{"p":"a","k":2,"t":1067,"l":0.74},{"p":"a","k":2,"t":1081,"l":0.92},
      {"p":"b","k":1,"t":993,"l":0.85},{"p":"b","k":1,"t":1013,"l":0.80},{"p":"b","k":1,"t":1025,"l":0.64},{"p":"b","k":1,"t":1028,"l":0.40},{"p":"b","k":1,"t":1023,"l":0.17},{"p":"b","k":1,"t":1010,"l":0.01},{"p":"b","k":1,"t":993,"l":-0.06},{"p":"b","k":1,"t":976,"l":-0.02},{"p":"b","k":1,"t":964,"l":0.15},{"p":"b","k":1,"t":959,"l":0.40},{"p":"b","k":1,"t":964,"l":0.64},{"p":"b","k":1,"t":976,"l":0.80},
      {"p":"c","k":1,"t":990,"l":0.81},{"p":"c","k":1,"t":1008,"l":0.73},{"p":"c","k":1,"t":1019,"l":0.53},{"p":"c","k":1,"t":1020,"l":0.39},{"p":"c","k":1,"t":1016,"l":0.18},{"p":"c","k":1,"t":1002,"l":0.04},{"p":"c","k":1,"t":987,"l":0.01},{"p":"c","k":1,"t":968,"l":0.06},{"p":"c","k":1,"t":959,"l":0.22},{"p":"c","k":1,"t":957,"l":0.39},{"p":"c","k":1,"t":961,"l":0.60},{"p":"c","k":1,"t":974,"l":0.76}
    ],
    "lb": [
      {"p":"a","t":1151,"l":1.58,"s":"20"},{"p":"a","t":935,"l":0.51,"s":"15"},{"p":"a","t":999,"l":-0.02,"s":"10"},{"p":"a","t":1063,"l":0.51,"s":"15"},{"p":"a","t":933,"l":-0.81,"s":"10"},{"p":"a","t":908,"l":-0.54,"s":"5.0"},{"p":"a","t":1071,"l":-0.30,"s":"20"},{"p":"a","t":1057,"l":-0.67,"s":"25"},{"p":"a","t":1082,"l":-0.80,"s":"30"},{"p":"a","t":1110,"l":-0.81,"s":"35"},{"p":"a","t":1189,"l":-0.89,"s":"40"},
      {"p":"b","t":1128,"l":1.61,"s":"30"},{"p":"b","t":1018,"l":1.46,"s":"25"},{"p":"b","t":1130,"l":1.19,"s":"20"},{"p":"b","t":1122,"l":0.77,"s":"15"},{"p":"b","t":1010,"l":0.04,"s":"10"},{"p":"b","t":916,"l":-0.81,"s":"10"},{"p":"b","t":1191,"l":1.63,"s":"25"},{"p":"b","t":1069,"l":-0.66,"s":"30"},{"p":"b","t":1056,"l":-0.87,"s":"35"},{"p":"b","t":1083,"l":-0.90,"s":"40"},{"p":"b","t":1189,"l":-0.74,"s":"45"},
      {"p":"c","t":957,"l":0.39,"s":"10"},{"p":"c","t":980,"l":-0.25,"s":"15"},{"p":"c","t":913,"l":-0.92,"s":"10"},{"p":"c","t":1070,"l":-0.20,"s":"20"},{"p":"c","t":1070,"l":-0.38,"s":"25"},{"p":"c","t":1059,"l":-0.56,"s":"30"},{"p":"c","t":1080,"l":-0.62,"s":"35"},{"p":"c","t":1070,"l":-0.80,"s":"40"},{"p":"c","t":1187,"l":-0.52,"s":"45"},{"p":"c","t":1188,"l":-0.78,"s":"50"},{"p":"c","t":1018,"l":1.43,"s":"25"},{"p":"c","t":1091,"l":1.46,"s":"35"},{"p":"c","t":1126,"l":1.44,"s":"30"},{"p":"c","t":1157,"l":1.35,"s":"20"},
      {"p":"d","t":1101,"l":1.45,"s":"35"},{"p":"d","t":1129,"l":1.44,"s":"30"},{"p":"d","t":1175,"l":1.44,"s":"25"},{"p":"d","t":1042,"l":0.52,"s":"10"},{"p":"d","t":990,"l":-0.15,"s":"15"},{"p":"d","t":961,"l":-0.44,"s":"20"},{"p":"d","t":961,"l":-0.59,"s":"25"},{"p":"d","t":955,"l":-0.80,"s":"30"},{"p":"d","t":980,"l":-0.80,"s":"35"},{"p":"d","t":1060,"l":-0.67,"s":"40"},{"p":"d","t":1189,"l":-0.53,"s":"45"},{"p":"d","t":1189,"l":-0.71,"s":"50"},{"p":"d","t":1080,"l":-0.93,"s":"55"}
    ],
    "pl": [
      {"p":"a","t":909,"l":1.49,"s":"(a)"},{"p":"b","t":910,"l":1.50,"s":"(b)"},{"p":"c","t":909,"l":1.48,"s":"(c)"},{"p":"d","t":908,"l":1.47,"s":"(d)"}
    ]
  },
  "columns": 2,
  "spacing": {"row": 19, "column": 49},
  "bounds": "flush",
  "concat": [
    {
      "width": 355, "height": 261,
      "encoding": {
        "x": {"field": "t", "type": "quantitative", "scale": {"domain": [900, 1200], "nice": false, "zero": false},
              "axis": {"values": [900,925,950,975,1000,1025,1050,1075,1100,1125,1150,1175,1200], "labels": false, "tickSize": -6, "tickWidth": 1.5, "tickColor": "black", "domain": false, "grid": false, "title": null}},
        "y": {"field": "l", "type": "quantitative", "scale": {"domain": [-1, 1.72], "nice": false, "zero": false},
              "axis": {"values": [-1,-0.75,-0.5,-0.25,0,0.25,0.5,0.75,1,1.25,1.5], "tickSize": -6, "tickWidth": 1.5, "tickColor": "black", "domain": false, "grid": false,
                       "labelExpr": "datum.value == 0 ? '0' : (datum.value*2 == round(datum.value*2) ? format(datum.value, '.1f') : '')",
                       "labelFont": "Liberation Serif", "labelFontSize": 18, "labelColor": "black", "labelPadding": 13, "labelFlush": false, "labelOverlap": false,
                       "title": "log₁₀ ε̇", "titleFont": "Liberation Serif", "titleFontSize": 19, "titleFontWeight": "normal", "titleColor": "black", "titlePadding": 6}}
      },
      "layer": [
        {"data": {"name": "ln"}, "transform": [{"filter": "datum.p == 'a'"}], "mark": {"type": "line", "interpolate": "catmull-rom", "stroke": "black", "strokeWidth": 1.8, "clip": true}, "encoding": {"detail": {"field": "k"}, "order": {"value": null}}},
        {"data": {"name": "lp"}, "transform": [{"filter": "datum.p == 'a'"}], "mark": {"type": "line", "interpolate": "cardinal-closed", "stroke": "black", "strokeWidth": 1.8, "clip": true}, "encoding": {"detail": {"field": "k"}, "order": {"value": null}}},
        {"data": {"name": "lb"}, "transform": [{"filter": "datum.p == 'a'"}], "mark": {"type": "text", "fontSize": 13, "font": "Liberation Serif", "fill": "#dde3ef", "stroke": "#dde3ef", "strokeWidth": 5, "strokeJoin": "round"}, "encoding": {"text": {"field": "s"}}},
        {"data": {"name": "lb"}, "transform": [{"filter": "datum.p == 'a'"}], "mark": {"type": "text", "fontSize": 13, "font": "Liberation Serif", "fill": "black"}, "encoding": {"text": {"field": "s"}}},
        {"data": {"name": "pl"}, "transform": [{"filter": "datum.p == 'a'"}], "mark": {"type": "text", "fontSize": 17, "font": "Liberation Serif", "fill": "black", "align": "left"}, "encoding": {"text": {"field": "s"}}}
      ]
    },
    {
      "width": 355, "height": 261,
      "encoding": {
        "x": {"field": "t", "type": "quantitative", "scale": {"domain": [900, 1200], "nice": false, "zero": false},
              "axis": {"values": [900,925,950,975,1000,1025,1050,1075,1100,1125,1150,1175,1200], "labels": false, "tickSize": -6, "tickWidth": 1.5, "tickColor": "black", "domain": false, "grid": false, "title": null}},
        "y": {"field": "l", "type": "quantitative", "scale": {"domain": [-1, 1.72], "nice": false, "zero": false},
              "axis": {"values": [-1,-0.75,-0.5,-0.25,0,0.25,0.5,0.75,1,1.25,1.5], "labels": false, "tickSize": -6, "tickWidth": 1.5, "tickColor": "black", "domain": false, "grid": false, "title": null}}
      },
      "layer": [
        {"data": {"name": "ln"}, "transform": [{"filter": "datum.p == 'b'"}], "mark": {"type": "line", "interpolate": "catmull-rom", "stroke": "black", "strokeWidth": 1.8, "clip": true}, "encoding": {"detail": {"field": "k"}, "order": {"value": null}}},
        {"data": {"name": "lp"}, "transform": [{"filter": "datum.p == 'b'"}], "mark": {"type": "line", "interpolate": "cardinal-closed", "stroke": "black", "strokeWidth": 1.8, "clip": true}, "encoding": {"detail": {"field": "k"}, "order": {"value": null}}},
        {"data": {"name": "lb"}, "transform": [{"filter": "datum.p == 'b'"}], "mark": {"type": "text", "fontSize": 13, "font": "Liberation Serif", "fill": "#dde3ef", "stroke": "#dde3ef", "strokeWidth": 5, "strokeJoin": "round"}, "encoding": {"text": {"field": "s"}}},
        {"data": {"name": "lb"}, "transform": [{"filter": "datum.p == 'b'"}], "mark": {"type": "text", "fontSize": 13, "font": "Liberation Serif", "fill": "black"}, "encoding": {"text": {"field": "s"}}},
        {"data": {"name": "pl"}, "transform": [{"filter": "datum.p == 'b'"}], "mark": {"type": "text", "fontSize": 17, "font": "Liberation Serif", "fill": "black", "align": "left"}, "encoding": {"text": {"field": "s"}}}
      ]
    },
    {
      "width": 355, "height": 261,
      "encoding": {
        "x": {"field": "t", "type": "quantitative", "scale": {"domain": [900, 1200], "nice": false, "zero": false},
              "axis": {"values": [900,925,950,975,1000,1025,1050,1075,1100,1125,1150,1175,1200], "format": "d", "tickSize": -6, "tickWidth": 1.5, "tickColor": "black", "domain": false, "grid": false,
                       "labelExpr": "datum.value % 50 == 0 ? datum.label : ''",
                       "labelFont": "Liberation Serif", "labelFontSize": 18, "labelColor": "black", "labelPadding": 14, "labelFlush": false, "labelOverlap": false,
                       "title": "温度 /℃", "titleFont": "Noto Sans CJK SC", "titleFontSize": 16, "titleFontWeight": "normal", "titleColor": "black", "titlePadding": 8}},
        "y": {"field": "l", "type": "quantitative", "scale": {"domain": [-1, 1.72], "nice": false, "zero": false},
              "axis": {"values": [-1,-0.75,-0.5,-0.25,0,0.25,0.5,0.75,1,1.25,1.5], "tickSize": -6, "tickWidth": 1.5, "tickColor": "black", "domain": false, "grid": false,
                       "labelExpr": "datum.value == 0 ? '0' : (datum.value*2 == round(datum.value*2) ? format(datum.value, '.1f') : '')",
                       "labelFont": "Liberation Serif", "labelFontSize": 18, "labelColor": "black", "labelPadding": 13, "labelFlush": false, "labelOverlap": false,
                       "title": "log₁₀ ε̇", "titleFont": "Liberation Serif", "titleFontSize": 19, "titleFontWeight": "normal", "titleColor": "black", "titlePadding": 6}}
      },
      "layer": [
        {"data": {"name": "ln"}, "transform": [{"filter": "datum.p == 'c'"}], "mark": {"type": "line", "interpolate": "catmull-rom", "stroke": "black", "strokeWidth": 1.8, "clip": true}, "encoding": {"detail": {"field": "k"}, "order": {"value": null}}},
        {"data": {"name": "lp"}, "transform": [{"filter": "datum.p == 'c'"}], "mark": {"type": "line", "interpolate": "cardinal-closed", "stroke": "black", "strokeWidth": 1.8, "clip": true}, "encoding": {"detail": {"field": "k"}, "order": {"value": null}}},
        {"data": {"name": "lb"}, "transform": [{"filter": "datum.p == 'c'"}], "mark": {"type": "text", "fontSize": 13, "font": "Liberation Serif", "fill": "#dde3ef", "stroke": "#dde3ef", "strokeWidth": 5, "strokeJoin": "round"}, "encoding": {"text": {"field": "s"}}},
        {"data": {"name": "lb"}, "transform": [{"filter": "datum.p == 'c'"}], "mark": {"type": "text", "fontSize": 13, "font": "Liberation Serif", "fill": "black"}, "encoding": {"text": {"field": "s"}}},
        {"data": {"name": "pl"}, "transform": [{"filter": "datum.p == 'c'"}], "mark": {"type": "text", "fontSize": 17, "font": "Liberation Serif", "fill": "black", "align": "left"}, "encoding": {"text": {"field": "s"}}}
      ]
    },
    {
      "width": 355, "height": 261,
      "encoding": {
        "x": {"field": "t", "type": "quantitative", "scale": {"domain": [900, 1200], "nice": false, "zero": false},
              "axis": {"values": [900,925,950,975,1000,1025,1050,1075,1100,1125,1150,1175,1200], "format": "d", "tickSize": -6, "tickWidth": 1.5, "tickColor": "black", "domain": false, "grid": false,
                       "labelExpr": "datum.value % 50 == 0 ? datum.label : ''",
                       "labelFont": "Liberation Serif", "labelFontSize": 18, "labelColor": "black", "labelPadding": 14, "labelFlush": false, "labelOverlap": false,
                       "title": "温度 /℃", "titleFont": "Noto Sans CJK SC", "titleFontSize": 16, "titleFontWeight": "normal", "titleColor": "black", "titlePadding": 8}},
        "y": {"field": "l", "type": "quantitative", "scale": {"domain": [-1, 1.72], "nice": false, "zero": false},
              "axis": {"values": [-1,-0.75,-0.5,-0.25,0,0.25,0.5,0.75,1,1.25,1.5], "labels": false, "tickSize": -6, "tickWidth": 1.5, "tickColor": "black", "domain": false, "grid": false, "title": null}}
      },
      "layer": [
        {"data": {"name": "ln"}, "transform": [{"filter": "datum.p == 'd'"}], "mark": {"type": "line", "interpolate": "catmull-rom", "stroke": "black", "strokeWidth": 1.8, "clip": true}, "encoding": {"detail": {"field": "k"}, "order": {"value": null}}},
        {"data": {"name": "lb"}, "transform": [{"filter": "datum.p == 'd'"}], "mark": {"type": "text", "fontSize": 13, "font": "Liberation Serif", "fill": "#dde3ef", "stroke": "#dde3ef", "strokeWidth": 5, "strokeJoin": "round"}, "encoding": {"text": {"field": "s"}}},
        {"data": {"name": "lb"}, "transform": [{"filter": "datum.p == 'd'"}], "mark": {"type": "text", "fontSize": 13, "font": "Liberation Serif", "fill": "black"}, "encoding": {"text": {"field": "s"}}},
        {"data": {"name": "pl"}, "transform": [{"filter": "datum.p == 'd'"}], "mark": {"type": "text", "fontSize": 17, "font": "Liberation Serif", "fill": "black", "align": "left"}, "encoding": {"text": {"field": "s"}}}
      ]
    }
  ]
}
